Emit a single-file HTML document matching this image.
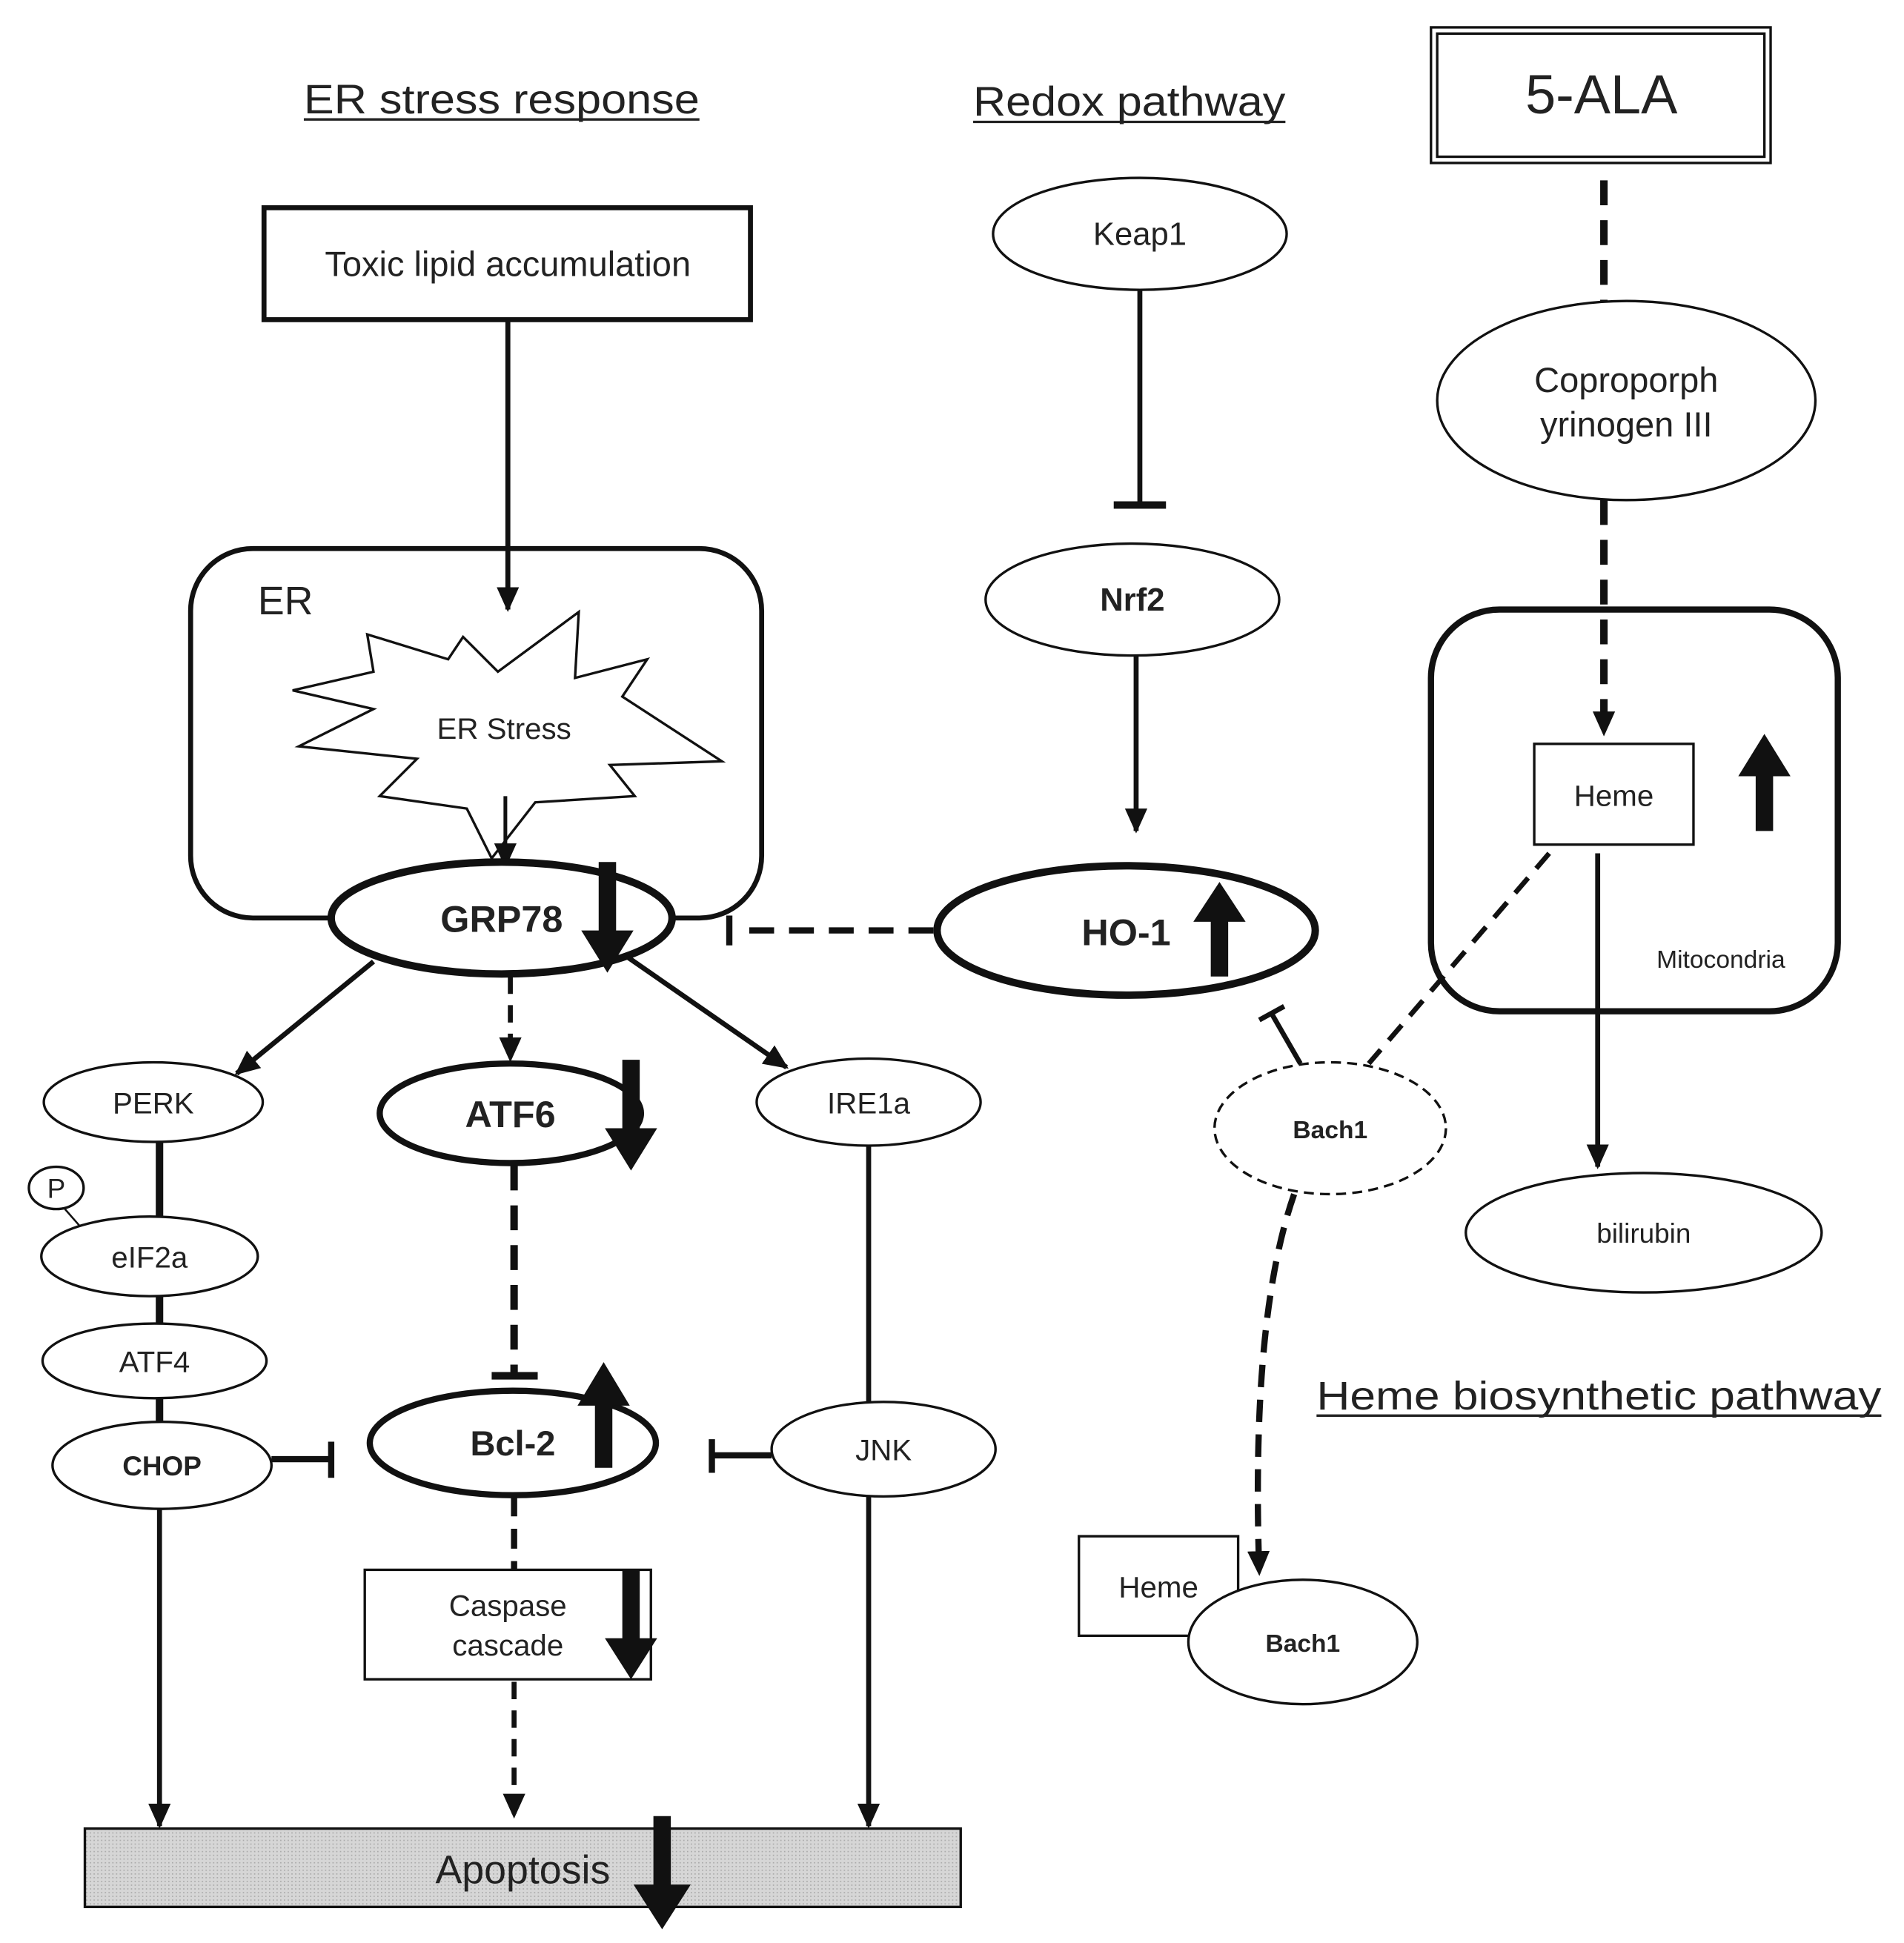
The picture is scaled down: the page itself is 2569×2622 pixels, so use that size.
<!DOCTYPE html>
<html><head><meta charset="utf-8"><style>
html,body{margin:0;padding:0;background:#fff}
svg{display:block}
text{font-family:"Liberation Sans",Arial,sans-serif;fill:#222}
</style></head><body>
<svg width="2569" height="2622" viewBox="0 0 1530 1562" xmlns="http://www.w3.org/2000/svg">
<defs>
<marker id="ahb" markerWidth="20" markerHeight="20" refX="18" refY="10" orient="auto" markerUnits="userSpaceOnUse" viewBox="0 0 20 20">
<path d="M0,1 L20,10 L0,19 Z" fill="#111"/></marker>
<pattern id="hat" width="3" height="3" patternUnits="userSpaceOnUse"><rect width="3" height="3" fill="#d6d6d6"/><rect width="1" height="1" fill="#aaa"/></pattern>
</defs>
<text x="244" y="91" font-size="33" textLength="318" lengthAdjust="spacingAndGlyphs">ER stress response</text>
<line x1="244" y1="96" x2="562" y2="96" stroke="#222" stroke-width="2"/>
<text x="782" y="93" font-size="33" textLength="251" lengthAdjust="spacingAndGlyphs">Redox pathway</text>
<line x1="782" y1="98" x2="1033" y2="98" stroke="#222" stroke-width="2"/>
<text x="1058" y="1133" font-size="32" textLength="454" lengthAdjust="spacingAndGlyphs">Heme  biosynthetic pathway</text>
<line x1="1058" y1="1138" x2="1512" y2="1138" stroke="#222" stroke-width="2"/>

<rect x="1150" y="22" width="273" height="109" fill="none" stroke="#111" stroke-width="2"/>
<rect x="1155" y="27" width="263" height="99" fill="none" stroke="#111" stroke-width="2"/>
<text x="1287" y="91" font-size="44" text-anchor="middle">5-ALA</text>

<rect x="212" y="167" width="391" height="90" fill="none" stroke="#111" stroke-width="4"/>
<text x="408" y="222" font-size="28" text-anchor="middle">Toxic lipid accumulation</text>
<line x1="408" y1="257" x2="408" y2="490" stroke="#111" stroke-width="4" marker-end="url(#ahb)"/>

<rect x="153" y="441" width="459" height="297" rx="50" fill="none" stroke="#111" stroke-width="4"/>
<text x="207" y="494" font-size="32">ER</text>
<polygon fill="#fff" stroke="#111" stroke-width="2" points="295,510 360,530 372,512 400,540 465,492 462,545 520,530 500,560 580,612 490,615 510,640 430,645 395,690 375,650 305,640 335,610 240,600 300,570 235,555 300,540 "/>
<text x="405" y="594" font-size="24" text-anchor="middle">ER Stress</text>
<line x1="406" y1="640" x2="406" y2="696" stroke="#111" stroke-width="3" marker-end="url(#ahb)"/>

<ellipse cx="403" cy="738" rx="137" ry="45" fill="#fff" stroke="#111" stroke-width="6"/>
<text x="403" y="749" font-size="30" font-weight="bold" text-anchor="middle">GRP78</text>
<path d="M481,693 h14 v55 h14 l-21,34 l-21,-34 h14 Z" fill="#111"/>

<line x1="750" y1="748" x2="590" y2="748" stroke="#111" stroke-width="5" stroke-dasharray="20,12"/>
<line x1="586" y1="736" x2="586" y2="760" stroke="#111" stroke-width="5"/>
<ellipse cx="905" cy="748" rx="152" ry="52" fill="#fff" stroke="#111" stroke-width="6"/>
<text x="905" y="760" font-size="30" font-weight="bold" text-anchor="middle">HO-1</text>
<path d="M973,785 h14 v-44 h14 l-21,-32 l-21,32 h14 Z" fill="#111"/>

<ellipse cx="916" cy="188" rx="118" ry="45" fill="#fff" stroke="#111" stroke-width="2"/>
<text x="916" y="197" font-size="26" text-anchor="middle">Keap1</text>
<line x1="916" y1="233" x2="916" y2="405" stroke="#111" stroke-width="4"/>
<line x1="895" y1="406" x2="937" y2="406" stroke="#111" stroke-width="6"/>
<ellipse cx="910" cy="482" rx="118" ry="45" fill="#fff" stroke="#111" stroke-width="2"/>
<text x="910" y="491" font-size="26" font-weight="bold" text-anchor="middle">Nrf2</text>
<line x1="913" y1="527" x2="913" y2="668" stroke="#111" stroke-width="4" marker-end="url(#ahb)"/>

<line x1="1289" y1="145" x2="1289" y2="242" stroke="#111" stroke-width="6" stroke-dasharray="20,12"/>
<ellipse cx="1307" cy="322" rx="152" ry="80" fill="#fff" stroke="#111" stroke-width="2"/>
<text x="1307" y="315" font-size="28" text-anchor="middle">Coproporph</text>
<text x="1307" y="351" font-size="28" text-anchor="middle">yrinogen III</text>
<rect x="1150" y="490" width="327" height="323" rx="55" fill="none" stroke="#111" stroke-width="5"/>
<line x1="1289" y1="402" x2="1289" y2="590" stroke="#111" stroke-width="6" stroke-dasharray="20,12" marker-end="url(#ahb)"/>
<text x="1383" y="778" font-size="20" text-anchor="middle">Mitocondria</text>
<rect x="1233" y="598" width="128" height="81" fill="#fff" stroke="#111" stroke-width="2"/>
<text x="1297" y="648" font-size="24" text-anchor="middle">Heme</text>
<path d="M1411,668 h14 v-44 h14 l-21,-34 l-21,34 h14 Z" fill="#111"/>
<line x1="1284" y1="686" x2="1284" y2="938" stroke="#111" stroke-width="4" marker-end="url(#ahb)"/>
<ellipse cx="1321" cy="991" rx="143" ry="48" fill="#fff" stroke="#111" stroke-width="2"/>
<text x="1321" y="999" font-size="22" text-anchor="middle">bilirubin</text>
<line x1="1245" y1="686" x2="1100" y2="855" stroke="#111" stroke-width="4" stroke-dasharray="16,10"/>

<line x1="1045" y1="855" x2="1022" y2="815" stroke="#111" stroke-width="4"/>
<line x1="1012" y1="820" x2="1032" y2="809" stroke="#111" stroke-width="4"/>
<ellipse cx="1069" cy="907" rx="93" ry="53" fill="#fff" stroke="#111" stroke-width="2" stroke-dasharray="8,5"/>
<text x="1069" y="915" font-size="20" font-weight="bold" text-anchor="middle">Bach1</text>
<path d="M1040,960 Q1005,1060 1012,1265" fill="none" stroke="#111" stroke-width="5" stroke-dasharray="18,10" marker-end="url(#ahb)"/>
<rect x="867" y="1235" width="128" height="80" fill="#fff" stroke="#111" stroke-width="2"/>
<text x="931" y="1284" font-size="24" text-anchor="middle">Heme</text>
<ellipse cx="1047" cy="1320" rx="92" ry="50" fill="#fff" stroke="#111" stroke-width="2"/>
<text x="1047" y="1328" font-size="20" font-weight="bold" text-anchor="middle">Bach1</text>

<line x1="300" y1="773" x2="190" y2="863" stroke="#111" stroke-width="4" marker-end="url(#ahb)"/>
<line x1="505" y1="770" x2="632" y2="858" stroke="#111" stroke-width="4" marker-end="url(#ahb)"/>
<line x1="410" y1="785" x2="410" y2="852" stroke="#111" stroke-width="4" stroke-dasharray="14,9" marker-end="url(#ahb)"/>

<line x1="128" y1="915" x2="128" y2="1145" stroke="#111" stroke-width="6"/>
<ellipse cx="123" cy="886" rx="88" ry="32" fill="#fff" stroke="#111" stroke-width="2"/>
<text x="123" y="895" font-size="24" text-anchor="middle">PERK</text>
<line x1="52" y1="972" x2="66" y2="988" stroke="#111" stroke-width="1.5"/>
<ellipse cx="45" cy="955" rx="22" ry="17" fill="#fff" stroke="#111" stroke-width="2"/>
<text x="45" y="963" font-size="22" text-anchor="middle">P</text>
<ellipse cx="120" cy="1010" rx="87" ry="32" fill="#fff" stroke="#111" stroke-width="2"/>
<text x="120" y="1019" font-size="24" text-anchor="middle">eIF2a</text>
<ellipse cx="124" cy="1094" rx="90" ry="30" fill="#fff" stroke="#111" stroke-width="2"/>
<text x="124" y="1103" font-size="24" text-anchor="middle">ATF4</text>
<ellipse cx="130" cy="1178" rx="88" ry="35" fill="#fff" stroke="#111" stroke-width="2"/>
<text x="130" y="1186" font-size="22" font-weight="bold" text-anchor="middle">CHOP</text>
<line x1="218" y1="1173" x2="266" y2="1173" stroke="#111" stroke-width="5"/>
<line x1="266" y1="1159" x2="266" y2="1188" stroke="#111" stroke-width="5"/>
<line x1="128" y1="1213" x2="128" y2="1468" stroke="#111" stroke-width="4" marker-end="url(#ahb)"/>

<ellipse cx="410" cy="895" rx="105" ry="40" fill="#fff" stroke="#111" stroke-width="5"/>
<text x="410" y="906" font-size="30" font-weight="bold" text-anchor="middle">ATF6</text>
<path d="M500,852 h14 v55 h14 l-21,34 l-21,-34 h14 Z" fill="#111"/>
<line x1="413" y1="937" x2="413" y2="1103" stroke="#111" stroke-width="6" stroke-dasharray="20,12"/>
<line x1="395" y1="1106" x2="432" y2="1106" stroke="#111" stroke-width="6"/>

<ellipse cx="698" cy="886" rx="90" ry="35" fill="#fff" stroke="#111" stroke-width="2"/>
<text x="698" y="895" font-size="24" text-anchor="middle">IRE1a</text>
<line x1="698" y1="921" x2="698" y2="1128" stroke="#111" stroke-width="4"/>
<ellipse cx="710" cy="1165" rx="90" ry="38" fill="#fff" stroke="#111" stroke-width="2"/>
<text x="710" y="1174" font-size="24" text-anchor="middle">JNK</text>
<line x1="620" y1="1170" x2="572" y2="1170" stroke="#111" stroke-width="5"/>
<line x1="572" y1="1157" x2="572" y2="1184" stroke="#111" stroke-width="5"/>
<line x1="698" y1="1203" x2="698" y2="1468" stroke="#111" stroke-width="4" marker-end="url(#ahb)"/>

<ellipse cx="412" cy="1160" rx="115" ry="42" fill="#fff" stroke="#111" stroke-width="5"/>
<text x="412" y="1170" font-size="28" font-weight="bold" text-anchor="middle">Bcl-2</text>
<path d="M478,1180 h14 v-50 h14 l-21,-35 l-21,35 h14 Z" fill="#111"/>
<line x1="413" y1="1203" x2="413" y2="1262" stroke="#111" stroke-width="5" stroke-dasharray="16,10"/>

<rect x="293" y="1262" width="230" height="88" fill="#fff" stroke="#111" stroke-width="2"/>
<text x="408" y="1299" font-size="24" text-anchor="middle">Caspase</text>
<text x="408" y="1331" font-size="24" text-anchor="middle">cascade</text>
<path d="M500,1262 h14 v55 h14 l-21,33 l-21,-33 h14 Z" fill="#111"/>
<line x1="413" y1="1352" x2="413" y2="1460" stroke="#111" stroke-width="4" stroke-dasharray="14,9" marker-end="url(#ahb)"/>

<rect x="68" y="1470" width="704" height="63" fill="url(#hat)" stroke="#111" stroke-width="2"/>
<text x="420" y="1514" font-size="32" text-anchor="middle">Apoptosis</text>
<path d="M525,1460 h14 v55 h16 l-23,36 l-23,-36 h16 Z" fill="#111"/>
</svg>
</body></html>
